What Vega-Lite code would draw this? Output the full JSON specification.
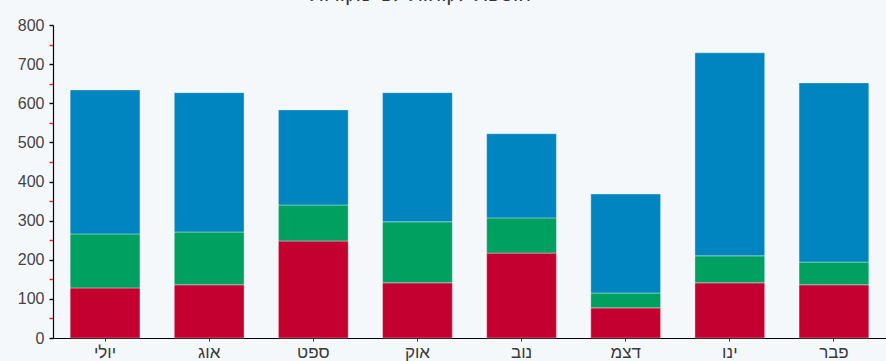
{
  "$schema": "https://vega.github.io/schema/vega-lite/v6.json",
  "width": 833,
  "height": 313,
  "autosize": {"type": "none"},
  "padding": {"left": 53, "top": 25, "right": 0, "bottom": 23},
  "background": "#f5f8fb",
  "title": {"text": "הוספת לקוחות לפי מקורות", "anchor": "middle", "dx": -49, "offset": 12, "fontSize": 20, "font": "Liberation Sans", "fontWeight": "normal", "color": "#333333"},
  "config": {"view": {"stroke": null}},
  "data": {"values": [
    {"month": "יולי", "series": "סדרה 1", "order": 1, "value": 128},
    {"month": "יולי", "series": "סדרה 2", "order": 2, "value": 138},
    {"month": "יולי", "series": "סדרה 3", "order": 3, "value": 368},
    {"month": "אוג", "series": "סדרה 1", "order": 1, "value": 136},
    {"month": "אוג", "series": "סדרה 2", "order": 2, "value": 135},
    {"month": "אוג", "series": "סדרה 3", "order": 3, "value": 356},
    {"month": "ספט", "series": "סדרה 1", "order": 1, "value": 248},
    {"month": "ספט", "series": "סדרה 2", "order": 2, "value": 92},
    {"month": "ספט", "series": "סדרה 3", "order": 3, "value": 243},
    {"month": "אוק", "series": "סדרה 1", "order": 1, "value": 141},
    {"month": "אוק", "series": "סדרה 2", "order": 2, "value": 156},
    {"month": "אוק", "series": "סדרה 3", "order": 3, "value": 330},
    {"month": "נוב", "series": "סדרה 1", "order": 1, "value": 217},
    {"month": "נוב", "series": "סדרה 2", "order": 2, "value": 90},
    {"month": "נוב", "series": "סדרה 3", "order": 3, "value": 215},
    {"month": "דצמ", "series": "סדרה 1", "order": 1, "value": 77},
    {"month": "דצמ", "series": "סדרה 2", "order": 2, "value": 38},
    {"month": "דצמ", "series": "סדרה 3", "order": 3, "value": 253},
    {"month": "ינו", "series": "סדרה 1", "order": 1, "value": 141},
    {"month": "ינו", "series": "סדרה 2", "order": 2, "value": 69},
    {"month": "ינו", "series": "סדרה 3", "order": 3, "value": 519},
    {"month": "פבר", "series": "סדרה 1", "order": 1, "value": 136},
    {"month": "פבר", "series": "סדרה 2", "order": 2, "value": 58},
    {"month": "פבר", "series": "סדרה 3", "order": 3, "value": 458}
  ]},
  "mark": {"type": "bar", "strokeWidth": 1, "strokeOpacity": 0.35, "stroke": "#ffffff"},
  "encoding": {
    "x": {
      "field": "month", "type": "nominal", "sort": null,
      "scale": {"paddingInner": 0.33, "paddingOuter": 0.165},
      "axis": {"title": null, "labelAngle": 0, "labelFont": "Liberation Sans", "labelFontSize": 17, "labelColor": "#3a3a3a", "domainColor": "#000000", "domainWidth": 1.2, "tickColor": "#333333", "tickSize": 3, "labelPadding": 3}
    },
    "y": {
      "field": "value", "type": "quantitative", "stack": "zero",
      "scale": {"domain": [0, 800], "nice": false},
      "axis": {
        "title": null, "grid": false,
        "values": [0, 50, 100, 150, 200, 250, 300, 350, 400, 450, 500, 550, 600, 650, 700, 750, 800],
        "labelExpr": "datum.value % 100 === 0 ? datum.label : ''",
        "labelFont": "Liberation Sans", "labelFontSize": 16, "labelColor": "#444444",
        "domainColor": "#000000", "domainWidth": 1.2,
        "tickColor": {"condition": {"test": "datum.value % 100 !== 0", "value": "#ee2222"}, "value": "#000000"},
        "tickSize": 4, "tickWidth": 1.4, "labelPadding": 5
      }
    },
    "color": {
      "field": "series", "type": "nominal",
      "scale": {"domain": ["סדרה 1", "סדרה 2", "סדרה 3"], "range": ["#c40030", "#00a060", "#0085c0"]},
      "legend": null
    },
    "order": {"field": "order", "type": "quantitative"}
  }
}
